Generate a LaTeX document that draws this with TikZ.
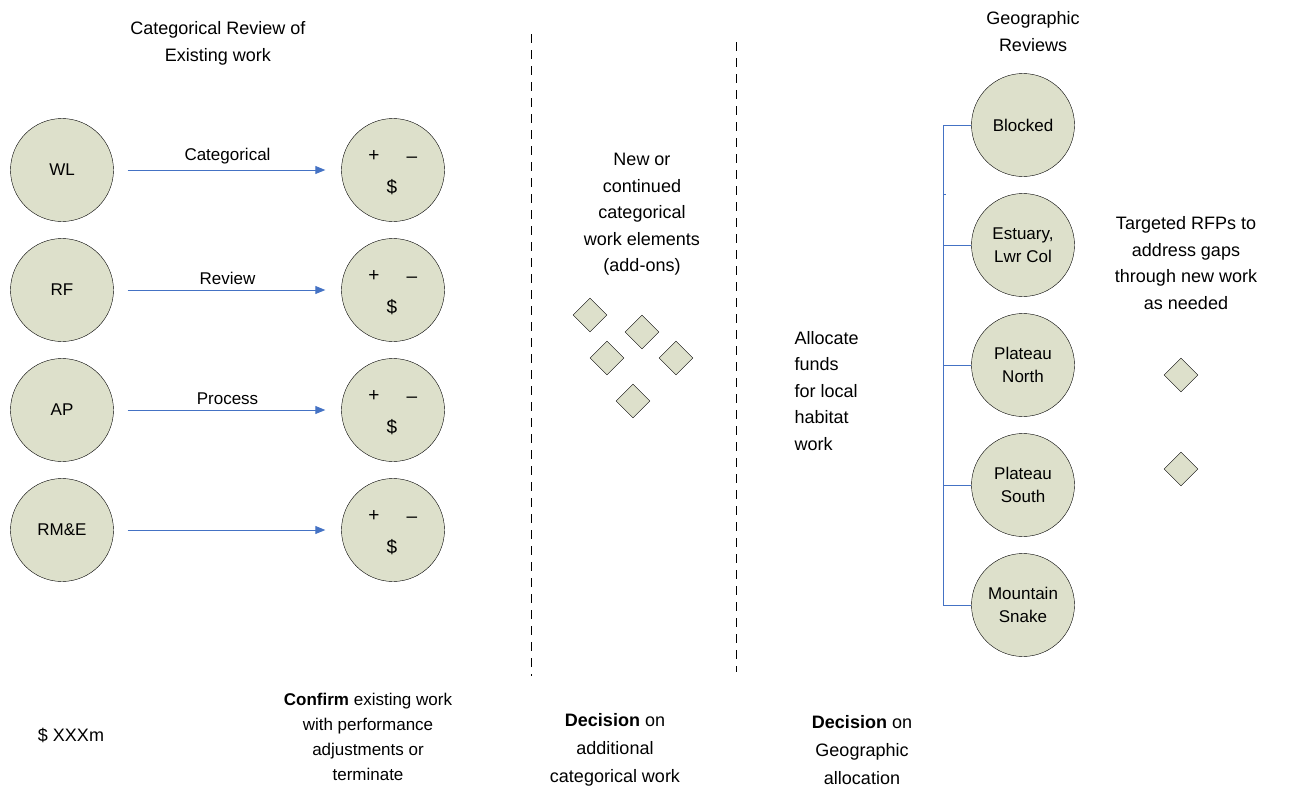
\documentclass[tikz,border=0pt]{standalone}
\usepackage{fontspec}
\setmainfont{Liberation Sans}
\usetikzlibrary{arrows.meta,shapes.geometric}
\definecolor{discfill}{RGB}{221,224,203}
\definecolor{linkblue}{RGB}{68,114,196}
\tikzset{
	disc/.style={circle, draw=black, fill=discfill, minimum size=103pt, inner sep=0pt, align=center, font=\fontsize{17}{23.5}\selectfont},
	gem/.style={diamond, draw=black, fill=discfill, minimum width=34pt, minimum height=34pt, inner sep=0pt},
	flow/.style={draw=linkblue, line width=0.9pt, -{Triangle[width=8pt,length=10pt]}, shorten <=14pt, shorten >=16pt},
	branch/.style={draw=linkblue, line width=0.9pt},
	divider/.style={line width=1pt, dash pattern=on 9pt off 7pt},
	caption/.style={align=center, font=\fontsize{18}{26.5}\selectfont},
	sign/.style={font=\fontsize{19}{19}\selectfont, inner sep=0pt},
}

\begin{document}
\begin{tikzpicture}[x=1pt,y=-1pt]
		%%%%% START %%%%%
		\useasboundingbox (0,0) rectangle (1301,793);
		
		% categorical review
		\node[caption] (cattitle) at (218,43.5) {Categorical Review of\\Existing work};
		
		\node[disc] (wl) at (62,170) {WL};
		\node[disc] (rf) at (62,290) {RF};
		\node[disc] (ap) at (62,410) {AP};
		\node[disc] (rme) at (62,530) {RM\&E};
		
		\node[disc] (pmA) at (393,170) {};
		\node[disc] (pmB) at (393,290) {};
		\node[disc] (pmC) at (393,410) {};
		\node[disc] (pmD) at (393,530) {};
		\foreach \pm in {pmA,pmB,pmC,pmD}{
			\node[sign] (\pm plus) at ([shift={(-19,-14)}]\pm.center) {+};
			\node[sign] (\pm minus) at ([shift={(19,-10)}]\pm.center) {--};
			\node[sign] (\pm cash) at ([shift={(-1,17)}]\pm.center) {\$};
		}
		
		\draw[flow] (wl) -- node[midway, above=2pt, font=\fontsize{17}{17}\selectfont] (lblcat) {Categorical} (pmA);
		\draw[flow] (rf) -- node[midway, above=2pt, font=\fontsize{17}{17}\selectfont] (lblrev) {Review} (pmB);
		\draw[flow] (ap) -- node[midway, above=2pt, font=\fontsize{17}{17}\selectfont] (lblproc) {Process} (pmC);
		\draw[flow] (rme) -- (pmD);
		
		% dividers
		\coordinate (cutAtop) at (531,34);
		\coordinate (cutAbot) at (531,676);
		\coordinate (cutBtop) at (736,42);
		\coordinate (cutBbot) at (736,672);
		\draw[divider] (cutAtop) -- (cutAbot);
		\draw[divider] (cutBtop) -- (cutBbot);
		
		% add-ons
		\node[caption] (addons) at (642,214.5) {New or\\continued\\categorical\\work elements\\(add-ons)};
		\node[gem] (gemA) at (590,315) {};
		\node[gem] (gemB) at (642,332) {};
		\node[gem] (gemC) at (607,358) {};
		\node[gem] (gemD) at (676,358) {};
		\node[gem] (gemE) at (633,401) {};
		
		\node[caption, align=left, anchor=west] (allocate) at (791,391) {Allocate\\funds\\for local\\habitat\\work};
		
		% geographic reviews
		\node[caption] (geotitle) at (1033,31.5) {Geographic\\Reviews};
		\node[disc] (blocked) at (1023,125) {Blocked};
		\node[disc] (estuary) at (1023,245) {Estuary,\\Lwr Col};
		\node[disc] (north) at (1023,365) {Plateau\\North};
		\node[disc] (south) at (1023,485) {Plateau\\South};
		\node[disc] (snake) at (1023,605) {Mountain\\Snake};
		
		\draw[branch] (blocked.west) -- ++(-28,0) coordinate (trunk) |- (snake.west);
		\draw[branch] (estuary.west) -- ++(-28,0);
		\draw[branch] (north.west) -- ++(-28,0);
		\draw[branch] (south.west) -- ++(-28,0);
		\draw[branch] ([yshift=-69pt]trunk) -- ++(3,0);
		
		\node[caption] (rfps) at (1186,263) {Targeted RFPs to\\address gaps\\through new work\\as needed};
		\node[gem] (gemF) at (1181,375) {};
		\node[gem] (gemG) at (1181,469) {};
		
		% bottom notes
		\node[caption] (budget) at (71,735) {\$ XXXm};
		\node[caption, font=\fontsize{17}{25}\selectfont] (confirm) at (368,737) {\textbf{Confirm} existing work\\with performance\\adjustments or\\terminate};
		\node[caption, font=\fontsize{18}{28}\selectfont] (deccat) at (615,750) {\textbf{Decision} on\\additional\\categorical work};
		\node[caption, font=\fontsize{18}{28}\selectfont] (decgeo) at (862,750) {\textbf{Decision} on\\Geographic\\allocation};
		
		%%%%% END %%%%%
\end{tikzpicture}
\end{document}
